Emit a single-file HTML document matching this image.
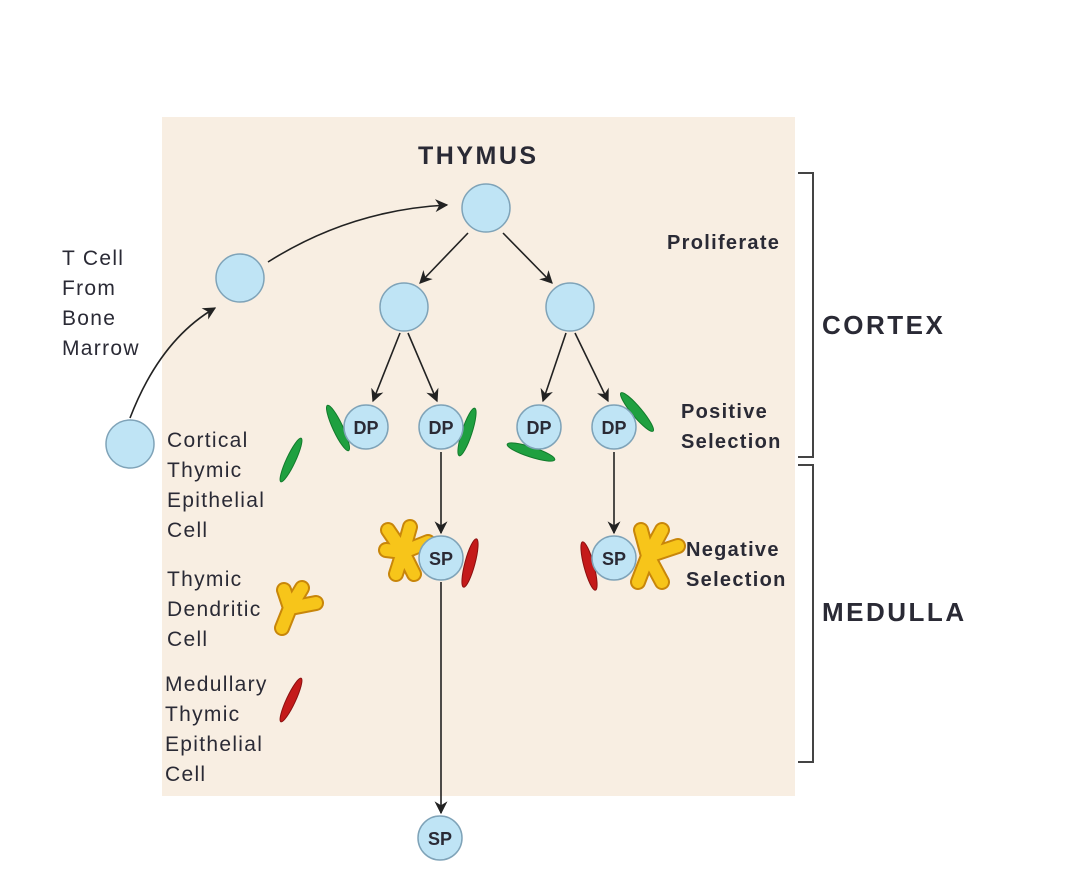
<!DOCTYPE html>
<html><head><meta charset="utf-8"><style>
html,body{margin:0;padding:0;background:#fff;}
svg{display:block;}
text{font-family:"Liberation Sans",Arial,sans-serif;fill:#2a2a35;}
</style></head><body>
<svg width="1080" height="879" viewBox="0 0 1080 879" xmlns="http://www.w3.org/2000/svg">
<defs>
<marker id="a" viewBox="0 0 10 10" refX="9" refY="5" markerWidth="13" markerHeight="13" orient="auto" markerUnits="userSpaceOnUse"><path d="M0,0 L10,5 L0,10 L3,5 z" fill="#222"/></marker>
</defs>
<rect x="162" y="117" width="633" height="679" fill="#f8eee2"/>
<path d="M798,173 H813 V457 H798" fill="none" stroke="#444" stroke-width="2"/>
<path d="M798,465 H813 V762 H798" fill="none" stroke="#444" stroke-width="2"/>
<g stroke="#222" stroke-width="1.6" fill="none" marker-end="url(#a)">
<path d="M130,418 Q160,340 215,308"/>
<path d="M268,262 Q350,210 447,205"/>
<path d="M468,233 L420,283"/>
<path d="M503,233 L552,283"/>
<path d="M400,333 L373,401"/>
<path d="M408,333 L437,401"/>
<path d="M566,333 L543,401"/>
<path d="M575,333 L608,401"/>
<path d="M441,452 L441,533"/>
<path d="M614,452 L614,533"/>
<path d="M441,582 L441,813"/>
</g>
<g fill="#bfe4f5" stroke="#7fa3b8" stroke-width="1.5">
<circle cx="486" cy="208" r="24"/>
<circle cx="240" cy="278" r="24"/>
<circle cx="130" cy="444" r="24"/>
<circle cx="404" cy="307" r="24"/>
<circle cx="570" cy="307" r="24"/>
</g>
<g fill="#1fa040" stroke="#137a2c" stroke-width="1">
<ellipse cx="338" cy="428" rx="5" ry="25" transform="rotate(-25 338 428)"/>
<ellipse cx="467" cy="432" rx="5" ry="25" transform="rotate(18 467 432)"/>
<ellipse cx="531" cy="452" rx="5" ry="25" transform="rotate(-72 531 452)"/>
<ellipse cx="637" cy="412" rx="5" ry="25" transform="rotate(-40 637 412)"/>
<ellipse cx="291" cy="460" rx="4.5" ry="24" transform="rotate(25 291 460)"/>
</g>
<g fill="#c41a1a" stroke="#8a1010" stroke-width="1">
<ellipse cx="470" cy="563" rx="5" ry="25" transform="rotate(15 470 563)"/>
<ellipse cx="589" cy="566" rx="5" ry="25" transform="rotate(-15 589 566)"/>
<ellipse cx="291" cy="700" rx="4.5" ry="24" transform="rotate(25 291 700)"/>
</g>
<g stroke-linecap="round" stroke-linejoin="round" fill="none">
<g stroke="#c8860a" stroke-width="16">
<path d="M388,530 L403,552 L410,527 M403,552 L428,542 M403,552 L396,574 M403,552 L414,574 M403,552 L386,550"/>
<path d="M641,530 L648,556 L662,530 M648,556 L678,546 M648,556 L638,582 M648,556 L662,582"/>
<path d="M282,628 L290,608 L284,590 M290,608 L302,588 M290,608 L316,603"/>
</g>
<g stroke="#f7c51a" stroke-width="12">
<path d="M388,530 L403,552 L410,527 M403,552 L428,542 M403,552 L396,574 M403,552 L414,574 M403,552 L386,550"/>
<path d="M641,530 L648,556 L662,530 M648,556 L678,546 M648,556 L638,582 M648,556 L662,582"/>
<path d="M282,628 L290,608 L284,590 M290,608 L302,588 M290,608 L316,603"/>
</g>
</g>
<g fill="#bfe4f5" stroke="#7fa3b8" stroke-width="1.5">
<circle cx="366" cy="427" r="22"/>
<circle cx="441" cy="427" r="22"/>
<circle cx="539" cy="427" r="22"/>
<circle cx="614" cy="427" r="22"/>
<circle cx="441" cy="558" r="22"/>
<circle cx="614" cy="558" r="22"/>
<circle cx="440" cy="838" r="22"/>
</g>
<g font-weight="bold" font-size="18" text-anchor="middle">
<text x="366" y="434">DP</text><text x="441" y="434">DP</text>
<text x="539" y="434">DP</text><text x="614" y="434">DP</text>
<text x="441" y="565">SP</text><text x="614" y="565">SP</text>
<text x="440" y="845">SP</text>
</g>
<text x="418" y="164" font-size="25" font-weight="bold" letter-spacing="2.5">THYMUS</text>
<g font-size="20" font-weight="bold" letter-spacing="1.3">
<text x="667" y="249">Proliferate</text>
<text x="681" y="418">Positive</text><text x="681" y="448">Selection</text>
<text x="686" y="556">Negative</text><text x="686" y="586">Selection</text>
</g>
<g font-size="26" font-weight="bold" letter-spacing="2.5">
<text x="822" y="334">CORTEX</text>
<text x="822" y="621">MEDULLA</text>
</g>
<g font-size="21" letter-spacing="1.3">
<text x="62" y="265">T Cell</text><text x="62" y="295">From</text><text x="62" y="325">Bone</text><text x="62" y="355">Marrow</text>
<text x="167" y="447">Cortical</text><text x="167" y="477">Thymic</text><text x="167" y="507">Epithelial</text><text x="167" y="537">Cell</text>
<text x="167" y="586">Thymic</text><text x="167" y="616">Dendritic</text><text x="167" y="646">Cell</text>
<text x="165" y="691">Medullary</text><text x="165" y="721">Thymic</text><text x="165" y="751">Epithelial</text><text x="165" y="781">Cell</text>
</g>
</svg>
</body></html>
